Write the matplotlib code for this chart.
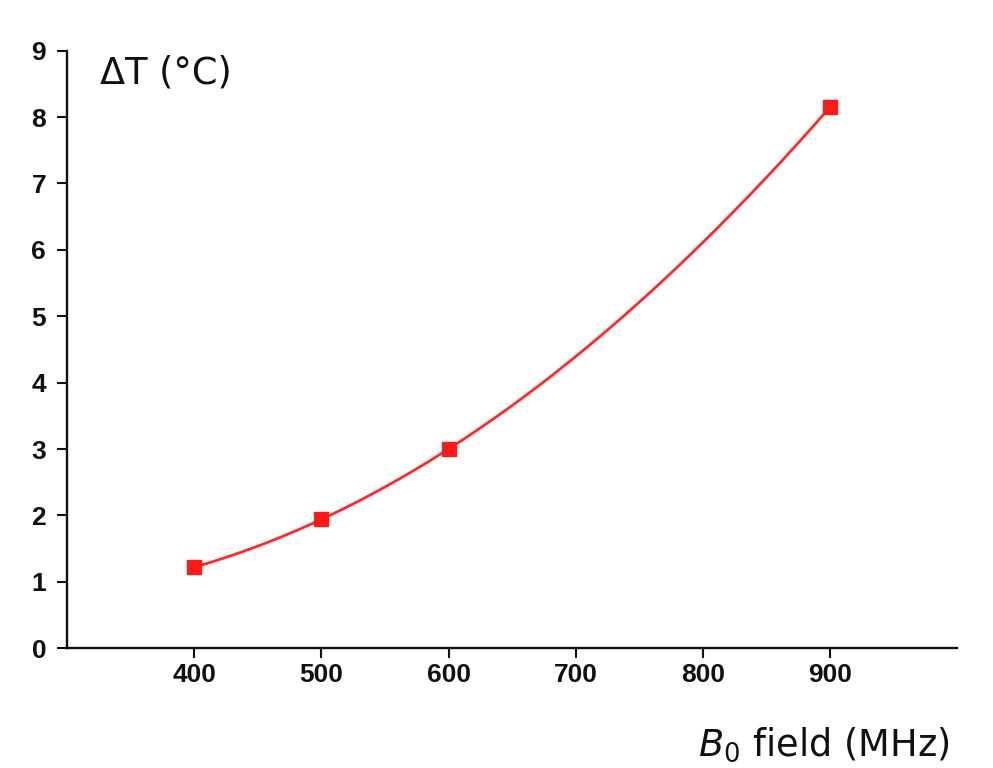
import numpy as np
import matplotlib
matplotlib.use("Agg")
import matplotlib.pyplot as plt

# Data
field_mhz = [400, 500, 600, 900]
delta_t = [1.22, 1.94, 3.00, 8.15]
x_ticks = [400, 500, 600, 700, 800, 900]
y_ticks = [0, 1, 2, 3, 4, 5, 6, 7, 8, 9]

fig = plt.figure(figsize=(9.93, 7.68), dpi=100)
ax = fig.add_axes([0.0675, 0.156, 0.8965, 0.778])

# smooth curve through the points
coef = np.polyfit(field_mhz, delta_t, 3)
xs = np.linspace(min(field_mhz), max(field_mhz), 300)
ax.plot(xs, np.polyval(coef, xs), color="#ff2a2a", lw=2.0, zorder=2)
ax.plot(field_mhz, delta_t, ls="none", marker="s", ms=10, color="#ff1a1a",
        mec="#ff1a1a", zorder=3)

ax.set_xlim(300, 1000)
ax.set_ylim(0, 9)
ax.set_xticks(x_ticks)
ax.set_yticks(y_ticks)

for s in ["top", "right"]:
    ax.spines[s].set_visible(False)
for s in ["left", "bottom"]:
    ax.spines[s].set_linewidth(1.7)
    ax.spines[s].set_color("#111111")

ax.tick_params(axis="both", direction="out", length=7, width=1.5,
               color="#111111", labelsize=19)
ax.tick_params(axis="x", pad=4)
ax.tick_params(axis="y", pad=8)
for lab in ax.get_xticklabels() + ax.get_yticklabels():
    lab.set_fontfamily("Liberation Sans")
    lab.set_fontweight("bold")
    lab.set_color("#111111")

fig.text(100 / 993, 1 - 73 / 768, "ΔT (°C)", fontsize=26.5, family="DejaVu Sans",
         va="center", ha="left", color="#111111")
fig.text(950 / 993, 1 - 745 / 768, r"$\it{B}$$_0$ field (MHz)", fontsize=26.5,
         family="DejaVu Sans", va="center", ha="right", color="#111111")

fig.savefig("out.png", dpi=100, facecolor="white")
